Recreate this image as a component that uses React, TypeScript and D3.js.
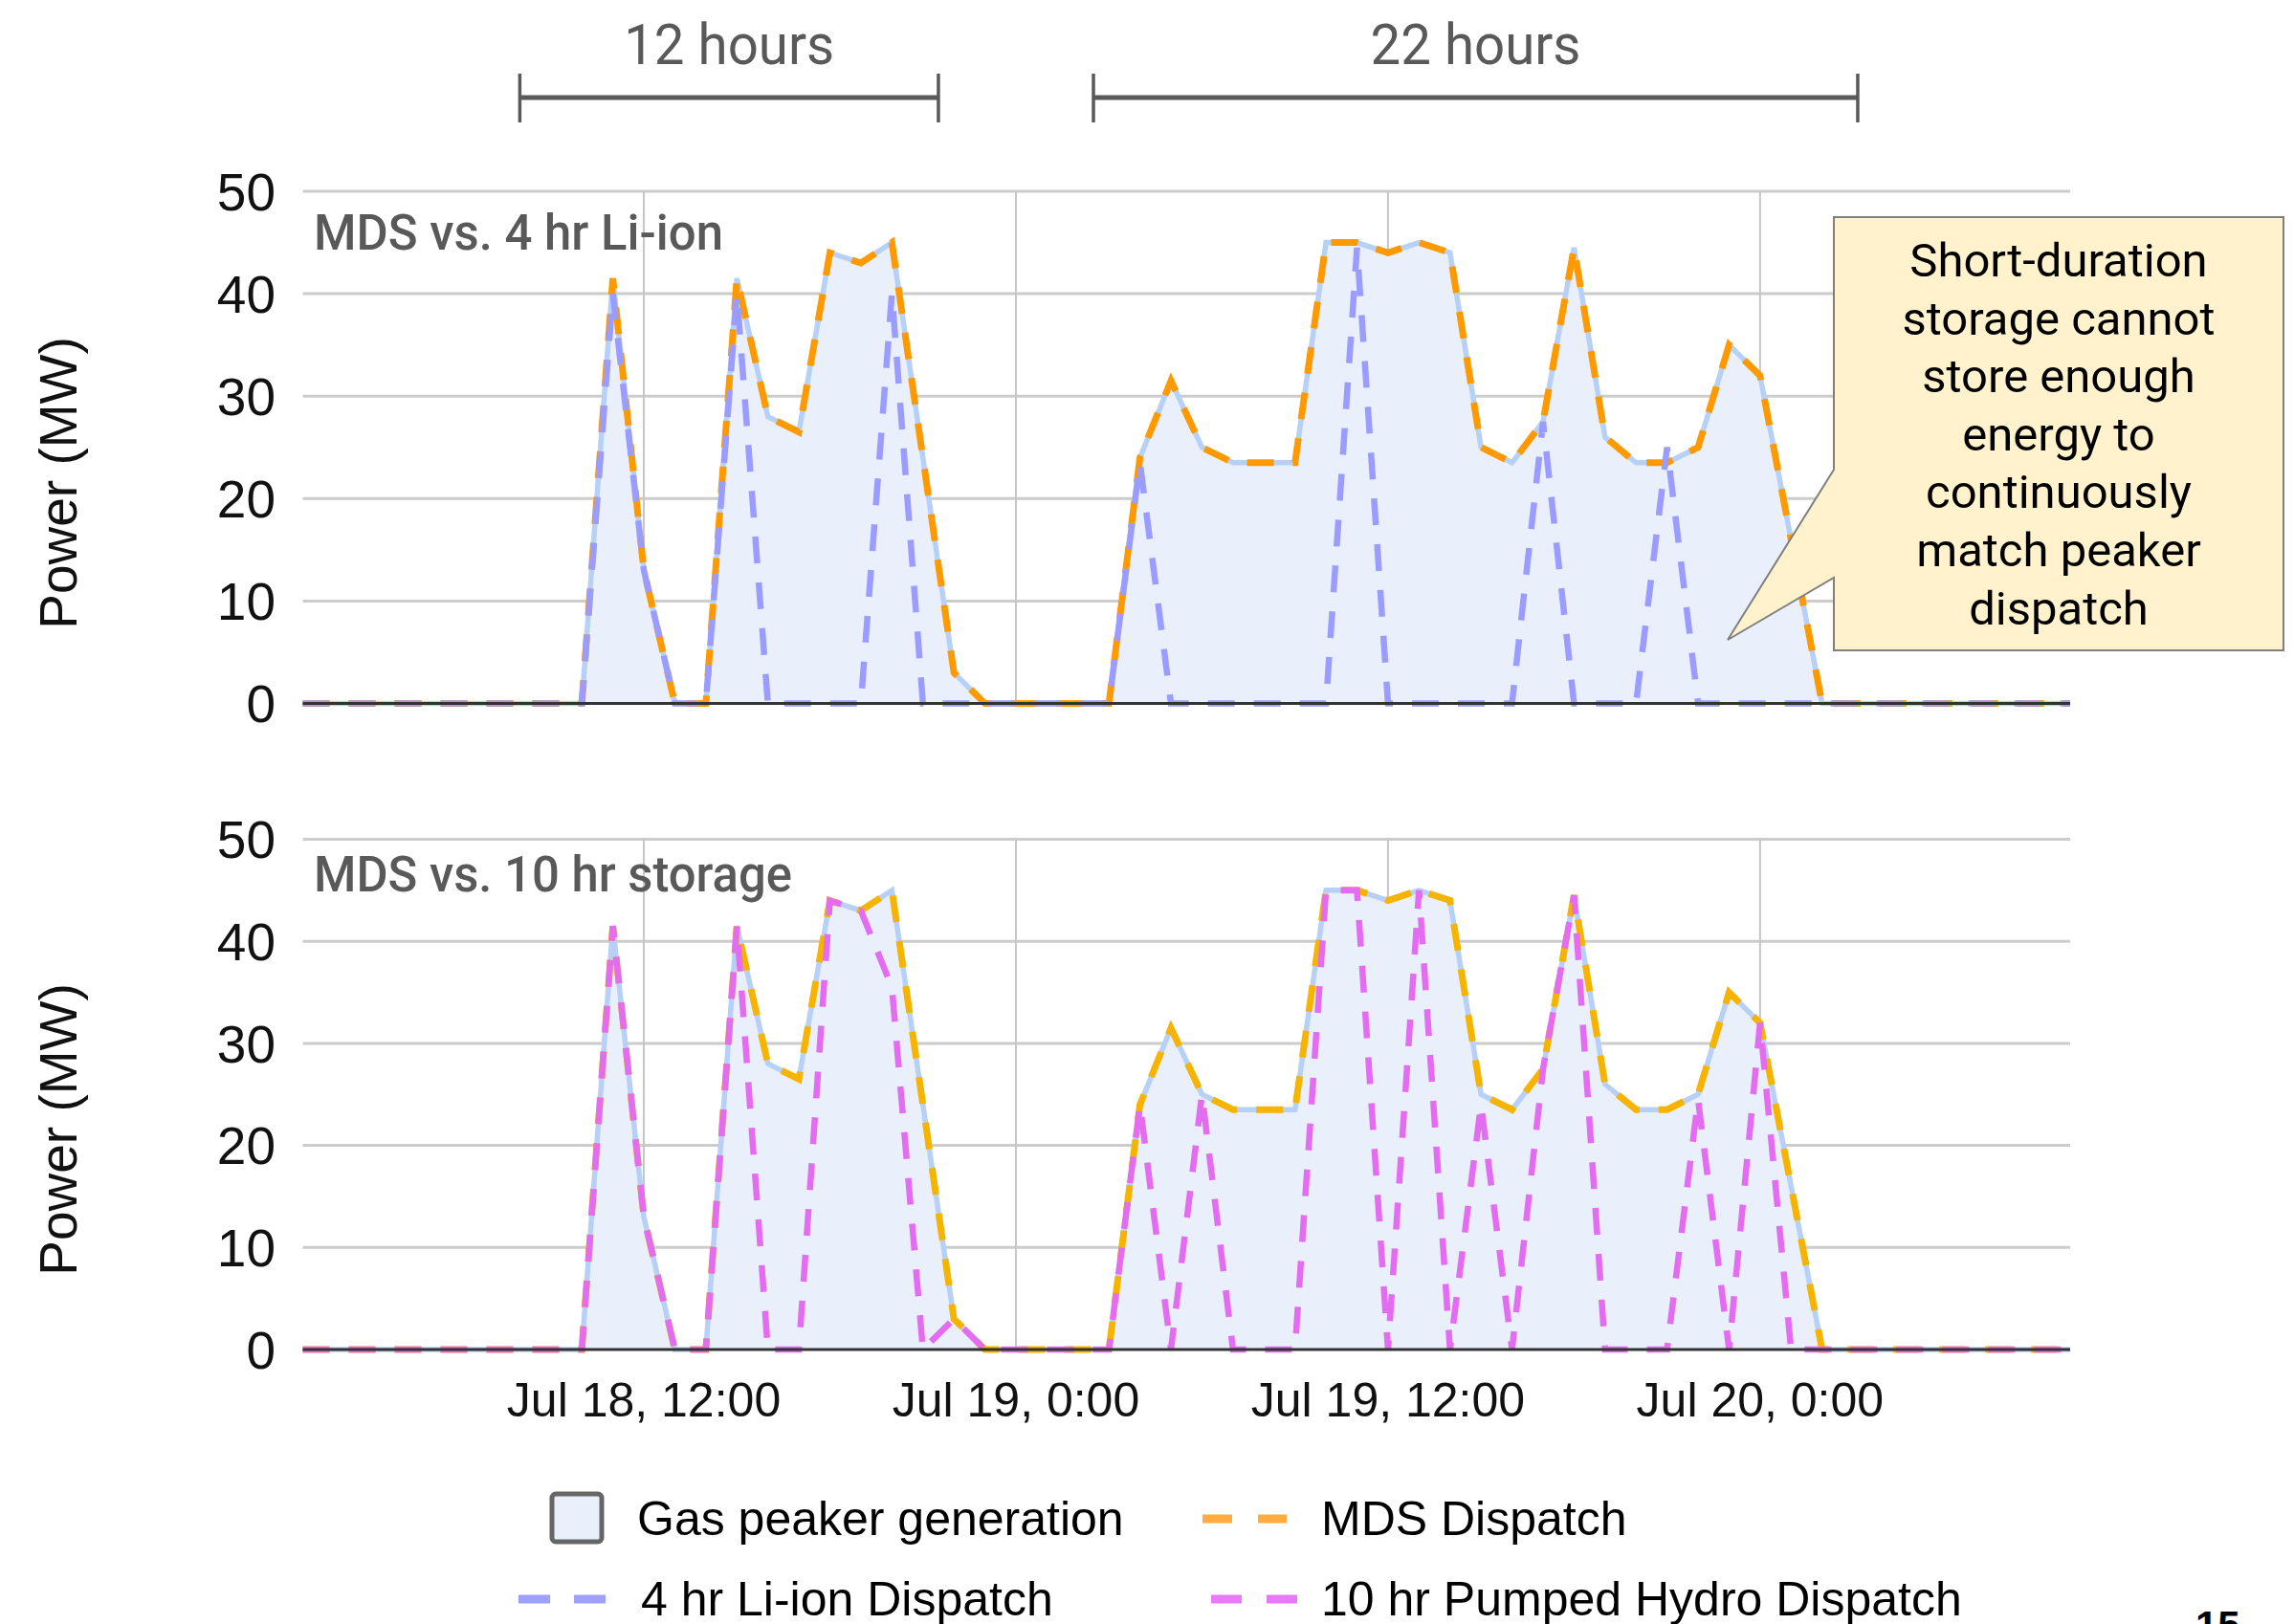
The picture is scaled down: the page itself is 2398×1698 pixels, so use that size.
import React from "react";
import * as d3 from "d3";

// ---------- data (hourly, starting Jul 18 01:00) ----------
const START_UTC = Date.UTC(2019, 6, 18, 1);

const gasPeaker = [
  0, 0, 0, 0, 0, 0, 0, 0, 0, 0,
  41.5, 13, 0, 0, 41.5, 28, 26.5, 44, 43, 45,
  24, 3, 0, 0, 0, 0, 0, 24, 31.5, 25,
  23.5, 23.5, 23.5, 45, 45, 44, 45, 44, 25, 23.5,
  27.5, 44.5, 26, 23.5, 23.5, 25, 35, 32, 16, 0,
  0, 0, 0, 0, 0, 0, 0, 0,
];

const mdsDispatch = [
  0, 0, 0, 0, 0, 0, 0, 0, 0, 0,
  41.5, 13, 0, 0, 41.5, 28, 26.5, 44, 43, 45,
  24, 3, 0, 0, 0, 0, 0, 24, 31.5, 25,
  23.5, 23.5, 23.5, 45, 45, 44, 45, 44, 25, 23.5,
  27.5, 44.5, 26, 23.5, 23.5, 25, 35, 32, 16, 0,
  0, 0, 0, 0, 0, 0, 0, 0,
];

const liIonDispatch = [
  0, 0, 0, 0, 0, 0, 0, 0, 0, 0,
  40, 13, 0, 0, 40, 0, 0, 0, 0, 40,
  0, 0, 0, 0, 0, 0, 0, 23.5, 0, 0,
  0, 0, 0, 0, 44.5, 0, 0, 0, 0, 0,
  27.5, 0, 0, 0, 25, 0, 0, 0, 0, 0,
  0, 0, 0, 0, 0, 0, 0, 0,
];

const pumpedHydroDispatch = [
  0, 0, 0, 0, 0, 0, 0, 0, 0, 0,
  41.5, 13, 0, 0, 41.5, 0, 0, 44, 43, 35.5,
  0, 3, 0, 0, 0, 0, 0, 24, 0, 25,
  0, 0, 0, 45, 45, 0, 45, 0, 24, 0,
  27.5, 44.5, 0, 0, 0, 24.5, 0, 32, 0, 0,
  0, 0, 0, 0, 0, 0, 0, 0,
];

const yTicks = [0, 10, 20, 30, 40, 50];
const xTickTimes = [
  Date.UTC(2019, 6, 18, 12),
  Date.UTC(2019, 6, 19, 0),
  Date.UTC(2019, 6, 19, 12),
  Date.UTC(2019, 6, 20, 0),
];
const xTickLabels = ["Jul 18, 12:00", "Jul 19, 0:00", "Jul 19, 12:00", "Jul 20, 0:00"];

// hour offsets (from start) spanned by the duration brackets
const bracketSpans = [
  { from: 7, to: 20.5, label: "12 hours" },
  { from: 25.5, to: 50.15, label: "22 hours" },
];

const calloutLines = [
  "Short-duration",
  "storage cannot",
  "store enough",
  "energy to",
  "continuously",
  "match peaker",
  "dispatch",
];

// ---------- styles ----------
const W = 2398;
const H = 1698;
const ARIAL = "Liberation Sans, Arial, sans-serif";
const ROBOTO = "Roboto, sans-serif";
const GAS_LINE = "#b6d0f7";
const GAS_FILL = "#e9effb";
const DASH = "28 20";

const HOUR = 3600 * 1000;
const timeOf = (i: number) => new Date(START_UTC + i * HOUR);

const x = d3
  .scaleUtc()
  .domain([timeOf(0), timeOf(gasPeaker.length - 1)])
  .range([316.5, 2164]);

type PanelProps = {
  yBottom: number;
  yTop: number;
  title: string;
  titleWidth: number;
  titleY: number;
  mdsColor: string;
  storage: number[];
  storageColor: string;
};

function Panel({ yBottom, yTop, title, titleWidth, titleY, mdsColor, storage, storageColor }: PanelProps) {
  const y = d3.scaleLinear().domain([0, 50]).range([yBottom, yTop]);
  const [x0, x1] = x.range();
  const line = d3
    .line<number>()
    .x((_, i) => x(timeOf(i)))
    .y((d) => y(d));
  const area = d3
    .area<number>()
    .x((_, i) => x(timeOf(i)))
    .y0(y(0))
    .y1((d) => y(d));

  return (
    <g>
      {yTicks.map((t) => (
        <g key={t}>
          {t !== 0 && (
            <line x1={x0} x2={x1} y1={y(t)} y2={y(t)} stroke="#cccccc" strokeWidth={3} />
          )}
          <text
            x={288}
            y={y(t)}
            dy="0.36em"
            textAnchor="end"
            fontFamily={ARIAL}
            fontSize={55}
            fill="#111"
          >
            {t}
          </text>
        </g>
      ))}
      {xTickTimes.map((t) => (
        <line
          key={t}
          x1={x(new Date(t))}
          x2={x(new Date(t))}
          y1={y(50)}
          y2={y(0)}
          stroke="#c6c6c6"
          strokeWidth={2}
        />
      ))}
      <path d={area(gasPeaker) || ""} fill={GAS_FILL} />
      <path d={line(gasPeaker) || ""} fill="none" stroke={GAS_LINE} strokeWidth={5.5} />
      <path
        d={line(mdsDispatch) || ""}
        fill="none"
        stroke={mdsColor}
        strokeWidth={7}
        strokeDasharray={DASH}
      />
      <path
        d={line(storage) || ""}
        fill="none"
        stroke={storageColor}
        strokeWidth={6.5}
        strokeDasharray={DASH}
      />
      <line x1={x0} x2={x1} y1={y(0)} y2={y(0)} stroke="#333" strokeWidth={3} />
      <text
        x={328}
        y={titleY}
        fontFamily={ROBOTO}
        fontSize={51}
        fontWeight={500}
        fill="#595959"
        textLength={titleWidth}
        lengthAdjust="spacingAndGlyphs"
      >
        {title}
      </text>
    </g>
  );
}

export default function App() {
  const cx = 2152;
  return (
    <div style={{ position: "absolute", left: 0, top: 0, width: W, height: H, background: "#fff" }}>
      <svg width={W} height={H} viewBox={`0 0 ${W} ${H}`} style={{ display: "block" }}>
        <rect width={W} height={H} fill="#fff" />

        {/* duration brackets */}
        {bracketSpans.map((b) => {
          const a = x(timeOf(b.from));
          const c = x(timeOf(b.to));
          return (
            <g key={b.label}>
              <line x1={a} x2={c} y1={102} y2={102} stroke="#595959" strokeWidth={5} />
              <line x1={a} x2={a} y1={77} y2={128} stroke="#595959" strokeWidth={3.5} />
              <line x1={c} x2={c} y1={77} y2={128} stroke="#595959" strokeWidth={3.5} />
              <text
                x={(a + c) / 2}
                y={67}
                textAnchor="middle"
                fontFamily={ROBOTO}
                fontSize={60}
                fill="#595959"
                textLength={220}
                lengthAdjust="spacingAndGlyphs"
              >
                {b.label}
              </text>
            </g>
          );
        })}

        <Panel
          yBottom={735.5}
          yTop={200}
          title="MDS vs. 4 hr Li-ion"
          titleWidth={428}
          titleY={261}
          mdsColor="#ff9900"
          storage={liIonDispatch}
          storageColor="#9a9cff"
        />
        <Panel
          yBottom={1411}
          yTop={877.5}
          title="MDS vs. 10 hr storage"
          titleWidth={500}
          titleY={932}
          mdsColor="#f6b400"
          storage={pumpedHydroDispatch}
          storageColor="#e46cf0"
        />

        {/* y-axis titles */}
        {[505, 1181].map((cy) => (
          <text
            key={cy}
            x={80}
            y={cy}
            transform={`rotate(-90, 80, ${cy})`}
            textAnchor="middle"
            fontFamily={ARIAL}
            fontSize={55}
            fill="#111"
          >
            Power (MW)
          </text>
        ))}

        {/* x-axis labels */}
        {xTickTimes.map((t, i) => (
          <text
            key={t}
            x={x(new Date(t))}
            y={1481}
            textAnchor="middle"
            fontFamily={ARIAL}
            fontSize={50}
            fill="#111"
          >
            {xTickLabels[i]}
          </text>
        ))}

        {/* callout */}
        <path
          d="M1917,227 H2387 V680 H1917 V604 L1806,669 L1917,491 Z"
          fill="#fff2cc"
          stroke="#7f7f7f"
          strokeWidth={2}
        />
        {calloutLines.map((s, i) => (
          <text
            key={s}
            x={cx}
            y={289 + i * 60.6}
            textAnchor="middle"
            fontFamily={ROBOTO}
            fontSize={49}
            fill="#000"
          >
            {s}
          </text>
        ))}

        {/* legend */}
        <rect x={577} y={1562} width={52} height={50} rx={4} fill={GAS_FILL} stroke="#666" strokeWidth={5} />
        <text x={666} y={1605} fontFamily={ARIAL} fontSize={50} fill="#000">
          Gas peaker generation
        </text>
        <line x1={1257} x2={1345} y1={1588} y2={1588} stroke="#ffab40" strokeWidth={9} strokeDasharray="31 27" />
        <text x={1381} y={1605} fontFamily={ARIAL} fontSize={50} fill="#000">
          MDS Dispatch
        </text>
        <line x1={542} x2={633} y1={1672} y2={1672} stroke="#9ea0ff" strokeWidth={9} strokeDasharray="33 25" />
        <text x={670} y={1689} fontFamily={ARIAL} fontSize={50} fill="#000">
          4 hr Li-ion Dispatch
        </text>
        <line x1={1266} x2={1356} y1={1672} y2={1672} stroke="#e879f9" strokeWidth={9} strokeDasharray="32 26" />
        <text x={1381} y={1689} fontFamily={ARIAL} fontSize={50} fill="#000">
          10 hr Pumped Hydro Dispatch
        </text>

        <text x={2295} y={1714} fontFamily={ARIAL} fontSize={42} fontWeight="bold" fill="#000">
          15
        </text>
      </svg>
    </div>
  );
}
